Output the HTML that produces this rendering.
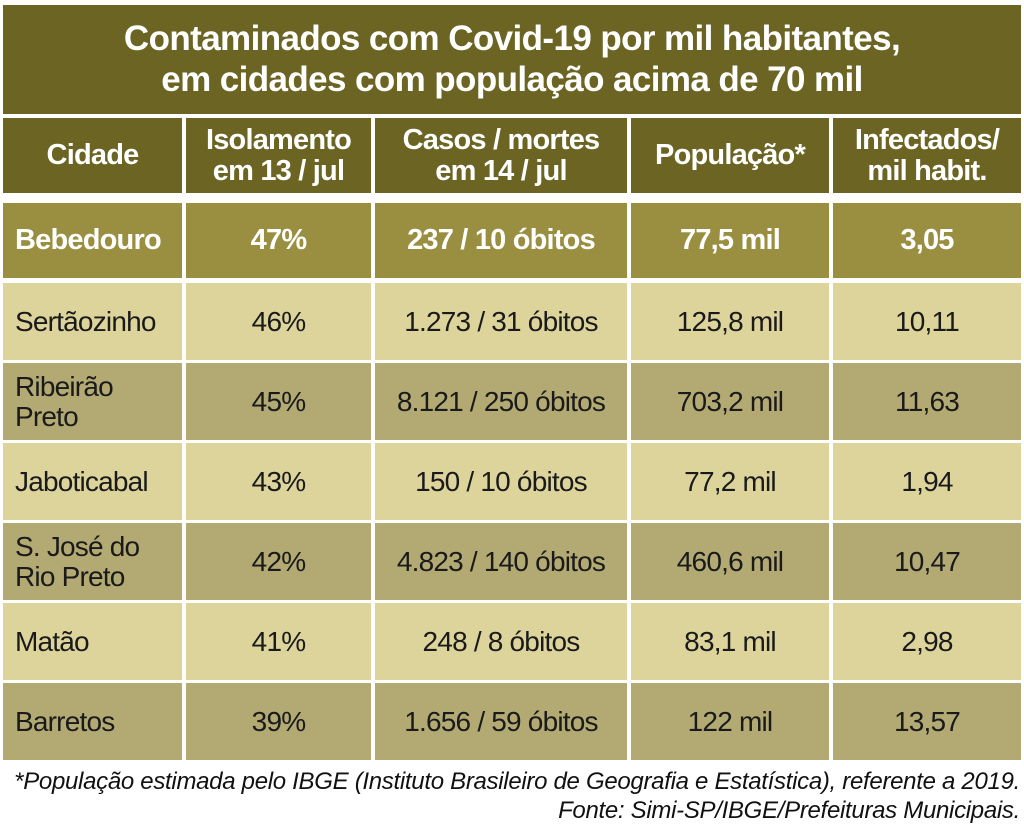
<!DOCTYPE html>
<html><head><meta charset="utf-8"><style>
body{margin:0;width:1024px;height:837px;background:#fff;position:relative;font-family:"Liberation Sans",sans-serif;overflow:hidden}
.b{position:absolute;display:flex;align-items:center;justify-content:center;text-align:center;box-sizing:border-box;line-height:1.05}
.t{left:3px;top:5px;width:1018px;height:109px;background:#6b6423;color:#fff;font-weight:bold;font-size:35px;letter-spacing:-0.6px;line-height:1.17}
.h{background:#6b6423;color:#fff;font-weight:bold;font-size:29px;letter-spacing:-0.8px;line-height:1.05}
.c{color:#1a1a1a;font-size:28px;letter-spacing:-0.8px;line-height:1.05}
.l{justify-content:flex-start;text-align:left;padding-left:12px}
.f{position:absolute;right:4px;font-style:italic;font-size:24px;color:#111;letter-spacing:-0.3px;white-space:nowrap}
</style></head><body>
<div class="b t">Contaminados com Covid-19 por mil habitantes,<br>em cidades com população acima de 70 mil</div>
<div id="g"></div>
<div class="f" style="top:768px">*População estimada pelo IBGE (Instituto Brasileiro de Geografia e Estatística), referente a 2019.</div>
<div class="f" style="top:797px">Fonte: Simi-SP/IBGE/Prefeituras Municipais.</div>
<script>
var cols=[[3,182],[186,371],[375,627],[631,829],[833,1021]];
var rows=[
[118,75,'h',['Cidade','Isolamento<br>em 13 / jul','Casos / mortes<br>em 14 / jul','População*','Infectados/<br>mil habit.']],
[203,75,'bb',['Bebedouro','47%','237 / 10 óbitos','77,5 mil','3,05']],
[283,77,'lt',['Sertãozinho','46%','1.273 / 31 óbitos','125,8 mil','10,11']],
[363,77,'dk',['Ribeirão<br>Preto','45%','8.121 / 250 óbitos','703,2 mil','11,63']],
[443,77,'lt',['Jaboticabal','43%','150 / 10 óbitos','77,2 mil','1,94']],
[523,77,'dk',['S. José do<br>Rio Preto','42%','4.823 / 140 óbitos','460,6 mil','10,47']],
[603,77,'lt',['Matão','41%','248 / 8 óbitos','83,1 mil','2,98']],
[683,77,'dk',['Barretos','39%','1.656 / 59 óbitos','122 mil','13,57']]];
var h='';
rows.forEach(function(r){cols.forEach(function(c,i){
var cls='b',st='left:'+c[0]+'px;top:'+r[0]+'px;width:'+(c[1]-c[0])+'px;height:'+r[1]+'px;';
if(r[2]=='h'){cls+=' h';}
else if(r[2]=='bb'){cls+=' h';st+='background:#9a8f40;';}
else{cls+=' c';st+='background:'+(r[2]=='lt'?'#ddd49c':'#b3aa73')+';';}
if(i==0&&r[2]!='h')cls+=' l';
h+='<div class="'+cls+'" style="'+st+'">'+r[3][i]+'</div>';});});
document.getElementById('g').innerHTML=h;
</script>
</body></html>
